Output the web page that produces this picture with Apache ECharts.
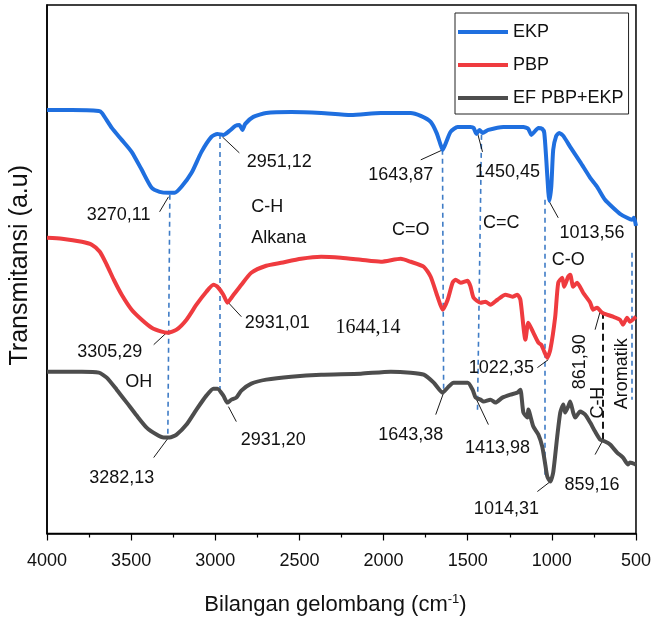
<!DOCTYPE html>
<html>
<head>
<meta charset="utf-8">
<script src="https://cdn.jsdelivr.net/npm/echarts@6/dist/echarts.min.js"></script>
<style>
html,body{margin:0;padding:0;background:#fff;}
#chart{width:654px;height:621px;}
</style>
</head>
<body>
<div id="chart"></div>
<script>
// ---------- DATA (wavenumber cm-1, transmittance a.u. with vertical offsets) ----------
const seriesNames = ['EKP', 'PBP', 'EF PBP+EKP'];
const xTicks = [4000, 3500, 3000, 2500, 2000, 1500, 1000, 500];

const ekp = [
  [4000,424],[3852,424],[3692,423],[3674,421],[3615,406],[3556,394],[3497,382],[3437,364],
  [3378,346],[3331,342],[3278,341],[3242,341],[3201,347],[3141,361],[3082,382],[3023,397],
  [2987,400],[2952,399],[2916,403],[2881,408],[2857,409],[2839,404],[2822,410],[2774,417],
  [2697,421],[2549,422],[2371,421],[2194,419],[2016,421],[1839,421],[1779,418],[1720,412],
  [1685,401],[1661,389],[1649,384],[1625,393],[1602,402],[1560,407],[1483,407],[1465,406],
  [1448,400],[1430,404],[1412,401],[1377,404],[1288,407],[1169,407],[1140,405],[1122,399],
  [1104,402],[1080,406],[1057,405],[1045,401],[1033,374],[1021,342],[1015,333],[1003,348],
  [992,384],[974,398],[956,401],[932,398],[891,387],[832,372],[772,356],[731,347],
  [684,334],[636,326],[595,320],[553,316],[524,314],[512,316],[500,308]
];

const pbp = [
  [4000,296],[3911,295],[3793,292],[3734,289],[3686,282],[3645,269],[3603,254],[3556,239],
  [3497,224],[3437,214],[3378,206],[3319,202],[3283,201],[3230,204],[3171,214],[3112,229],
  [3053,242],[3011,249],[2987,247],[2952,239],[2928,231],[2904,236],[2845,249],[2786,261],
  [2697,268],[2608,271],[2490,275],[2371,277],[2253,276],[2135,274],[2016,272],[1898,275],
  [1839,272],[1761,267],[1720,257],[1679,237],[1649,224],[1619,234],[1590,251],[1572,254],
  [1542,251],[1500,253],[1483,247],[1465,236],[1424,231],[1394,232],[1365,229],[1323,234],
  [1276,239],[1234,237],[1205,239],[1187,234],[1157,194],[1140,211],[1110,201],[1080,191],
  [1063,189],[1045,182],[1027,176],[1009,184],[980,217],[962,251],[938,256],[927,247],
  [903,257],[891,259],[873,247],[850,251],[814,241],[772,231],[755,224],[731,226],
  [701,221],[636,217],[595,214],[577,209],[553,216],[536,212],[500,217]
];

const ef = [
  [4000,162],[3793,162],[3692,161],[3645,156],[3586,144],[3526,131],[3467,118],[3408,106],
  [3349,99],[3307,96],[3272,96],[3230,99],[3171,109],[3112,124],[3053,138],[3011,145],
  [2987,145],[2952,138],[2928,131],[2904,134],[2875,136],[2845,143],[2786,150],[2697,154],
  [2549,157],[2371,159],[2135,160],[1957,162],[1839,161],[1761,159],[1702,151],[1649,141],
  [1619,146],[1584,151],[1500,151],[1471,144],[1453,136],[1424,134],[1406,132],[1365,134],
  [1335,131],[1294,136],[1246,139],[1205,141],[1187,144],[1169,121],[1145,116],[1140,124],
  [1110,107],[1080,99],[1057,87],[1039,69],[1027,57],[1009,52],[992,61],[968,97],
  [950,121],[932,129],[921,121],[903,127],[891,132],[873,121],[861,116],[832,122],
  [802,119],[772,111],[743,102],[713,94],[684,92],[654,89],[612,81],[577,76],
  [547,69],[536,71],[500,69]
];

// annotation texts
const peakTexts = ['3270,11','2951,12','1643,87','1450,45','1013,56',
                   '3305,29','2931,01','1022,35',
                   '3282,13','2931,20','1643,38','1413,98','1014,31','859,16'];
const groupTexts = ['C-H','Alkana','C=O','C=C','C-O','OH'];

// ---------- LAYOUT (anchors given in data space) ----------
const peakTextPos = [[3574,319],[2620,372],[1898,359],[1264,362],[761,301],
                     [3627,182],[2632,211],[1300,166],
                     [3556,56],[2656,94],[1838,99],[1323,86],[1270,24],[761,49]];
const groupTextPos = [[2786,327,'left'],[2786,296,'left'],[1838,304,'center'],[1300,311,'center'],[903,274,'center'],[3455,152,'center']];

const leaderLines = [
  [[3331,322],[3278,337]],[[2958,397],[2857,381]],[[1779,374],[1649,384]],[[1442,401],[1412,382]],
  [[1021,334],[962,316]],[[3366,189],[3289,201]],[[2922,231],[2845,217]],[[1086,166],[1021,174]],
  [[3366,76],[3278,96]],[[2922,127],[2875,112]],[[1690,119],[1643,141]],[[1453,136],[1377,109]],
  [[1086,42],[1009,52]],[[743,79],[701,92]],[[743,204],[713,222]]
];
const blueGuides = [
  [[3270,339],[3282,97]],[[2975,400],[2975,140]],[[1650,384],[1643,142]],
  [[1418,399],[1442,121]],[[1045,334],[1045,56]],[[524,281],[524,134]]
];
const blackGuide = [[695,222],[695,91]];

const FONT = '"Liberation Sans", Arial, sans-serif';
const chart = echarts.init(document.getElementById('chart'), null, {renderer:'canvas'});

const mlData = [];
blueGuides.forEach(g => mlData.push([{coord:g[0], lineStyle:{color:'#3f7cc6', width:1.6, type:[5,4]}}, {coord:g[1]}]));
mlData.push([{coord:blackGuide[0], lineStyle:{color:'#000', width:1.8, type:[7,4]}}, {coord:blackGuide[1]}]);
leaderLines.forEach(g => mlData.push([{coord:g[0], lineStyle:{color:'#000', width:0.9, type:'solid'}}, {coord:g[1]}]));

const colors = ['#1f6fdf', '#ef3b3f', '#4d4d4d'];
const datas = [ekp, pbp, ef];

chart.setOption({
  animation: false,
  backgroundColor: '#fff',
  grid: {left:45, right:18, top:5, bottom:87, show:true, borderColor:'#000', borderWidth:1.5, backgroundColor:'transparent'},
  legend: {
    orient:'vertical', left:455, top:13, width:175,
    data: seriesNames,
    icon:'rect', itemWidth:50, itemHeight:4, itemGap:15,
    padding:[10,5,7,3],
    borderColor:'#222', borderWidth:1, backgroundColor:'#fff',
    textStyle:{fontFamily:FONT, fontSize:18, color:'#111'}
  },
  xAxis: {
    type:'value', inverse:true, min:500, max:4000, interval:500,
    axisLine:{show:true, onZero:false, lineStyle:{color:'#000', width:1.5}},
    axisTick:{show:true, inside:false, length:7, lineStyle:{color:'#000', width:1.2}},
    minorTick:{show:true, splitNumber:2, length:4, lineStyle:{color:'#000', width:1.2}},
    splitLine:{show:false},
    axisLabel:{fontFamily:FONT, fontSize:18, color:'#111', margin:19,
      formatter: v => xTicks.indexOf(v) >= 0 ? String(v) : ''},
    name:'Bilangan gelombang (cm{sup|-1})', nameLocation:'middle', nameGap:59,
    nameTextStyle:{fontFamily:FONT, fontSize:22, color:'#111', padding:[0,12,0,0],
      rich:{sup:{fontFamily:FONT, fontSize:13, color:'#111', padding:[0,0,12,0]}}}
  },
  yAxis: {
    type:'value', min:0, max:529,
    axisLine:{show:true, lineStyle:{color:'#000', width:1.5}},
    axisTick:{show:false}, axisLabel:{show:false}, splitLine:{show:false},
    name:'Transmitansi (a.u)', nameLocation:'middle', nameRotate:90, nameGap:14,
    nameTextStyle:{fontFamily:FONT, fontSize:25, color:'#111', padding:[0,0,0,8]}
  },
  series: datas.map((d,i) => ({
    name: seriesNames[i], type:'line', data:d, showSymbol:false, symbol:'none',
    smooth:0.2, z: 3 + i,
    lineStyle:{color:colors[i], width:4, join:'round'},
    itemStyle:{color:colors[i]},
    markLine: i === 0 ? {silent:true, symbol:['none','none'], label:{show:false}, z:2, data:mlData} : undefined
  }))
});

// texts
const g = [];
function px(p){ return chart.convertToPixel({xAxisIndex:0, yAxisIndex:0}, p); }
const ANN = 18;
peakTexts.forEach((t,i) => {
  const p = px(peakTextPos[i]);
  g.push({type:'text', x:p[0], y:p[1], z:20, style:{text:t, fontFamily:FONT, fontSize:ANN, fill:'#111', align:'center', verticalAlign:'middle'}});
});
groupTexts.forEach((t,i) => {
  const q = groupTextPos[i];
  const p = px([q[0], q[1]]);
  g.push({type:'text', x:p[0], y:p[1], z:20, style:{text:t, fontFamily:FONT, fontSize:ANN, fill:'#111', align:q[2], verticalAlign:'middle'}});
});
// serif label
(function(){
  const p = px([2093,206]);
  g.push({type:'text', x:p[0], y:p[1], z:20, style:{text:'1644,14', fontFamily:'"Liberation Serif", serif', fontSize:20, fill:'#111', align:'center', verticalAlign:'middle'}});
})();
// rotated labels
[['861,90',[832,172]],['C-H',[725,131]],['Aromatik',[583,160]]].forEach(r => {
  const p = px(r[1]);
  g.push({type:'text', x:p[0], y:p[1], rotation:Math.PI/2, z:20,
    style:{text:r[0], fontFamily:FONT, fontSize:ANN, fill:'#111', align:'center', verticalAlign:'middle'}});
});
chart.setOption({graphic: g});
</script>
</body>
</html>
